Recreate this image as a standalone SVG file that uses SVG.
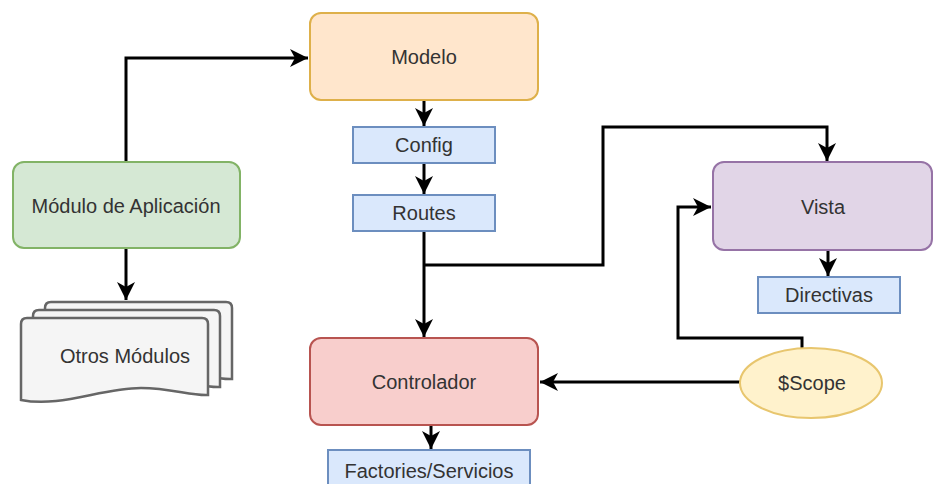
<svg xmlns="http://www.w3.org/2000/svg" width="933" height="484" viewBox="0 0 933 484">
  <style>
    .lbl { font-family: "Liberation Sans", Arial, sans-serif; font-size: 20px; fill: #333333; text-anchor: middle; dominant-baseline: central; }
    .box { stroke-width: 2; }
    .blue { fill: #dae8fc; stroke: #6c8ebf; }
    .edge { fill: none; stroke: #000000; stroke-width: 3; }
    .doc { fill: #f5f5f5; stroke: #666666; stroke-width: 2.5; }
  </style>
  <defs>
    <marker id="arrow" markerUnits="userSpaceOnUse" markerWidth="22" markerHeight="22" viewBox="-20 -11 22 22" refX="0" refY="0" orient="auto">
      <path d="M0,0 L-18,-9 L-13,0 L-18,9 Z" fill="#000000"/>
    </marker>
    <path id="docShape" d="M0,6 Q0,0 6,0 L181,0 Q187,0 187,6 L187,77 C170,78 150,70 120,70 C80,70 40,90 0,82 Z"/>
  </defs>

  <rect width="933" height="484" fill="#ffffff"/>

  <g id="connectors">
    <path class="edge" d="M126,162 V58 H308" marker-end="url(#arrow)"/>
    <path class="edge" d="M126,248 V300" marker-end="url(#arrow)"/>
    <path class="edge" d="M424,100 V126" marker-end="url(#arrow)"/>
    <path class="edge" d="M424,163 V194" marker-end="url(#arrow)"/>
    <path class="edge" d="M424,231 V337" marker-end="url(#arrow)"/>
    <path class="edge" d="M424,265 H603 V127 H827 V161" marker-end="url(#arrow)"/>
    <path class="edge" d="M828,250 V276" marker-end="url(#arrow)"/>
    <path class="edge" d="M740,382 H540" marker-end="url(#arrow)"/>
    <path class="edge" d="M802,348 V338 H678 V207 H711" marker-end="url(#arrow)"/>
    <path class="edge" d="M431,425 V449" marker-end="url(#arrow)"/>
  </g>

  <g id="modulo-aplicacion">
    <rect class="box" x="13" y="162" width="227" height="86" rx="11" fill="#d5e8d4" stroke="#82b366"/>
    <text class="lbl" x="126" y="206">Módulo de Aplicación</text>
  </g>

  <g id="otros-modulos">
    <use href="#docShape" class="doc" transform="translate(45,302)"/>
    <use href="#docShape" class="doc" transform="translate(33,310)"/>
    <use href="#docShape" class="doc" transform="translate(21,318)"/>
    <text class="lbl" x="125" y="356" fill="#444444">Otros Módulos</text>
  </g>

  <g id="modelo">
    <rect class="box" x="310" y="13" width="228" height="87" rx="11" fill="#ffe6cc" stroke="#deb04a"/>
    <text class="lbl" x="424" y="57">Modelo</text>
  </g>

  <g id="config">
    <rect class="box blue" x="353" y="127" width="142" height="36"/>
    <text class="lbl" x="424" y="145">Config</text>
  </g>

  <g id="routes">
    <rect class="box blue" x="353" y="195" width="142" height="36"/>
    <text class="lbl" x="424" y="213">Routes</text>
  </g>

  <g id="vista">
    <rect class="box" x="713" y="162" width="219" height="88" rx="11" fill="#e1d5e7" stroke="#9673a6"/>
    <text class="lbl" x="823" y="207">Vista</text>
  </g>

  <g id="directivas">
    <rect class="box blue" x="758" y="277" width="142" height="36"/>
    <text class="lbl" x="829" y="295">Directivas</text>
  </g>

  <g id="controlador">
    <rect class="box" x="310" y="338" width="228" height="87" rx="11" fill="#f8cecc" stroke="#b85450"/>
    <text class="lbl" x="424" y="382">Controlador</text>
  </g>

  <g id="scope">
    <ellipse class="box" cx="811" cy="383" rx="71" ry="35" fill="#fff2cc" stroke="#e8c66e"/>
    <text class="lbl" x="812" y="383">$Scope</text>
  </g>

  <g id="factories-servicios">
    <rect class="box blue" x="328" y="450" width="202" height="38"/>
    <text class="lbl" x="429" y="471">Factories/Servicios</text>
  </g>
</svg>
